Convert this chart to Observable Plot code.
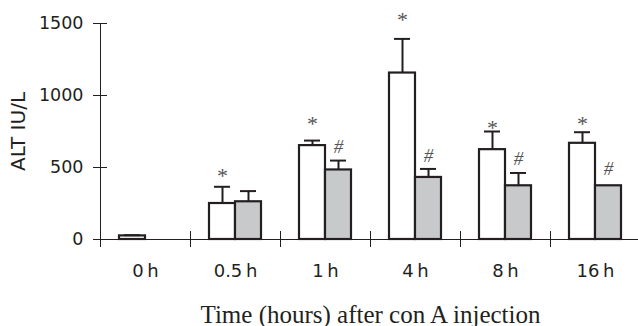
<!DOCTYPE html>
<html>
<head>
<meta charset="utf-8">
<script src="https://cdn.jsdelivr.net/npm/d3@7"></script>
<script src="https://cdn.jsdelivr.net/npm/@observablehq/plot@0.6"></script>
<style>
  html, body { margin: 0; padding: 0; background: #fff; }
  #chart svg { overflow: visible; }
  #chart g[aria-label="fx-axis label"] text { font-family: "Liberation Serif", serif; font-size: 25px; }
  #chart g[aria-label="y-axis label"] text { font-family: "DejaVu Sans", sans-serif; font-size: 20px; }
</style>
</head>
<body>
<div id="chart"></div>
<script>
// categories and series (ALT, IU/L)
const times = ["0\u2009h", "0.5\u2009h", "1\u2009h", "4\u2009h", "8\u2009h", "16\u2009h"];
const groups = ["conA", "treated"];
const conA = [25, 250, 652, 1156, 624, 668];
const conASd = [5, 116, 35, 237, 126, 77];
const treated = [null, 262, 483, 431, 373, 373];
const treatedSd = [null, 74, 65, 59, 89, 0];
// significance marks (value at glyph centre)
const starTimes = [1, 2, 3, 4, 5].map(i => times[i]);
const starY = [478, 838, 1558, 808, 838];
const hashTimes = [2, 3, 4, 5].map(i => times[i]);
const hashY = [640, 582, 559, 490];
const yTicks = [0, 500, 1000, 1500];

const rows = [];
times.forEach((t, i) => {
  if (conA[i] != null) rows.push({time: t, group: groups[0], value: conA[i], sd: conASd[i]});
  if (treated[i] != null) rows.push({time: t, group: groups[1], value: treated[i], sd: treatedSd[i]});
});
const errRows = rows.filter(d => d.sd > 0);
const stars = starTimes.map((t, i) => ({time: t, group: groups[0], y: starY[i]}));
const hashes = hashTimes.map((t, i) => ({time: t, group: groups[1], y: hashY[i]}));

const ink = "#231f20";

const plot = Plot.plot({
  width: 638,
  height: 326,
  marginLeft: 99,
  marginRight: -3,
  marginTop: 23,
  marginBottom: 87,
  style: {background: "#fff", color: ink, fontFamily: "DejaVu Sans, sans-serif", fontSize: "17px"},
  fx: {domain: times, padding: 0, axis: null},
  x: {domain: groups, paddingInner: 0, paddingOuter: 0.7, axis: null},
  y: {domain: [0, 1500], axis: null},
  color: {domain: groups, range: ["#ffffff", "#c8c9ca"]},
  marks: [
    Plot.ruleY([0], {stroke: ink, strokeWidth: 1}),
    Plot.frame({anchor: "left", facetAnchor: "left", stroke: ink, strokeWidth: 1}),
    Plot.frame({anchor: "left", insetTop: 208, insetBottom: -7, stroke: ink, strokeWidth: 1}),
    Plot.axisY({ticks: yTicks, tickFormat: d3.format("d"), tickSize: 14, dx: 7, tickPadding: 10, fontSize: 17.5,
      label: "ALT IU/L", labelAnchor: "center", labelArrow: "none", labelOffset: 90, stroke: ink}),
    Plot.axisFx({anchor: "bottom", tickSize: 0, tickPadding: 25, fontSize: 18,
      label: "Time (hours) after con A injection", labelAnchor: "center", labelArrow: "none", labelOffset: 83}),
    Plot.barY(rows, {fx: "time", x: "group", y: "value", fill: "group", stroke: ink, strokeWidth: 2.2}),
    Plot.ruleX(errRows, {fx: "time", x: "group", y1: "value", y2: d => d.value + d.sd, stroke: ink, strokeWidth: 2}),
    Plot.tickY(errRows, {fx: "time", x: "group", y: d => d.value + d.sd, insetLeft: 5, insetRight: 5, stroke: ink, strokeWidth: 2}),
    Plot.text(stars, {fx: "time", x: "group", y: "y", text: () => "*", fontFamily: "Liberation Serif, serif", fontSize: 22, fill: "#555", dy: 5}),
    Plot.text(hashes, {fx: "time", x: "group", y: "y", text: () => "#", fontFamily: "Liberation Serif, serif", fontStyle: "italic", fontSize: 19, fill: "#555"})
  ]
});
document.getElementById("chart").appendChild(plot);
</script>
</body>
</html>
